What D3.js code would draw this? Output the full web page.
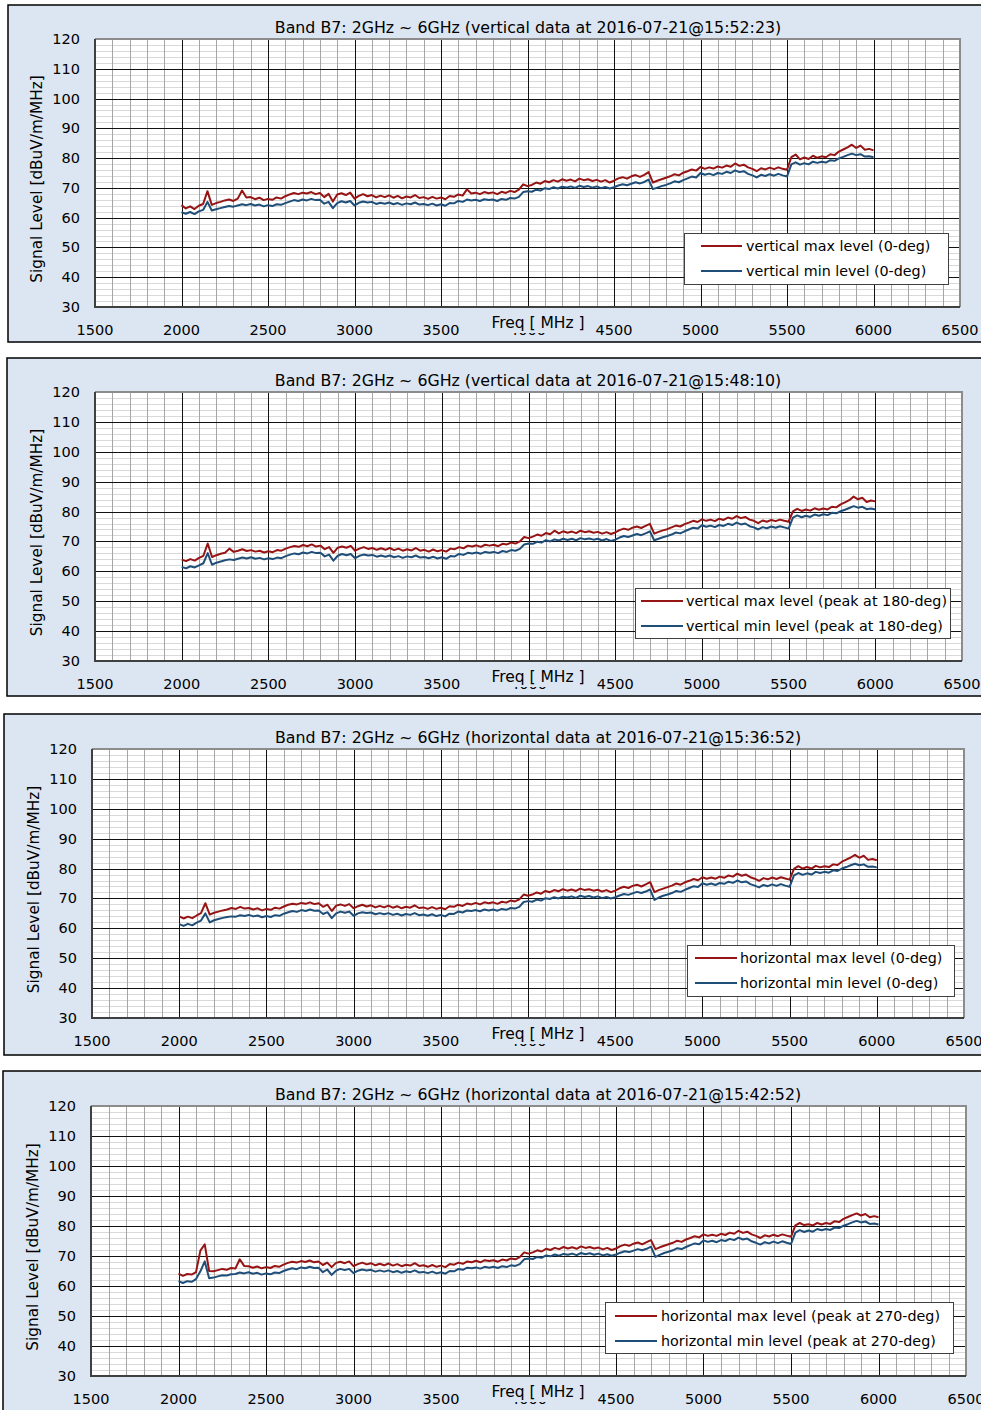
<!DOCTYPE html>
<html>
<head>
<meta charset="utf-8">
<script src="https://cdn.jsdelivr.net/npm/d3@7"></script>
<style>
  body { margin: 0; background: #fff; }
  text { font-family: "DejaVu Sans", sans-serif; fill: #000; }
</style>
</head>
<body>
<script>
// frequency grid of the sweep (MHz), one reading every 25 MHz
const freqs = d3.range(2000, 6001, 25);
const xTicks = [1500, 2000, 2500, 3000, 3500, 4000, 4500, 5000, 5500, 6000, 6500];
const yTicks = [30, 40, 50, 60, 70, 80, 90, 100, 110, 120];

const titles = [
  "Band B7: 2GHz ~ 6GHz (vertical data at 2016-07-21@15:52:23)",
  "Band B7: 2GHz ~ 6GHz (vertical data at 2016-07-21@15:48:10)",
  "Band B7: 2GHz ~ 6GHz (horizontal data at 2016-07-21@15:36:52)",
  "Band B7: 2GHz ~ 6GHz (horizontal data at 2016-07-21@15:42:52)"
];
const legendLabels = [
  ["vertical max level (0-deg)", "vertical min level (0-deg)"],
  ["vertical max level (peak at 180-deg)", "vertical min level (peak at 180-deg)"],
  ["horizontal max level (0-deg)", "horizontal min level (0-deg)"],
  ["horizontal max level (peak at 270-deg)", "horizontal min level (peak at 270-deg)"]
];

const p1Max = [
  64.2, 63.1, 63.8, 62.9, 64.0, 64.6, 68.9, 64.3,
  64.9, 65.3, 65.8, 66.1, 65.6, 66.4, 69.1, 66.8,
  66.9, 66.2, 66.7, 65.9, 66.3, 66.0, 66.8, 66.4,
  67.2, 67.8, 68.3, 67.9, 68.4, 68.1, 68.6, 67.9,
  68.3, 66.9, 68.0, 65.4, 67.8, 68.2, 67.6, 68.4,
  66.4, 67.3, 67.9, 67.2, 67.6, 66.8, 67.4, 66.9,
  67.5, 66.7, 67.3, 66.5, 67.1, 66.8, 67.6, 66.6,
  66.9, 66.3, 67.0, 66.4, 66.8, 66.2, 67.3, 67.0,
  67.8, 67.4, 69.5, 68.1, 68.4, 67.9, 68.6, 68.2,
  68.5, 67.9, 68.7, 68.3, 69.0, 68.6, 69.4, 71.2,
  70.6, 71.0, 71.8, 71.4, 72.3, 71.9, 72.6, 72.1,
  72.9, 72.4, 72.8, 72.2, 73.1, 72.6, 72.9, 72.3,
  72.7, 72.1, 72.6, 71.8, 72.4, 73.2, 73.6, 73.1,
  73.9, 74.3, 73.7, 74.4, 75.3, 71.8, 72.4, 72.9,
  73.4, 73.9, 74.6, 74.2, 75.1, 75.6, 76.2, 75.8,
  77.0, 76.4, 76.9, 76.5, 77.2, 76.8, 77.5, 77.1,
  78.2, 77.4, 77.8, 76.9, 76.4, 75.6, 76.6, 76.2,
  76.8, 76.3, 76.9, 76.4, 76.1, 80.3, 81.2, 79.6,
  80.2, 79.7, 80.8, 80.1, 80.6, 80.3, 81.3, 81.0,
  82.2, 82.9, 83.6, 84.5, 83.4, 84.2, 82.8, 83.1,
  82.6
];
const p1Min = [
  61.8, 61.3, 61.9, 61.2, 62.1, 62.6, 65.3, 62.4,
  62.8, 63.2, 63.6, 63.9, 63.7, 64.1, 64.5, 64.2,
  64.6, 64.1, 64.4, 63.8, 64.2, 63.9, 64.5, 64.3,
  64.9, 65.4, 65.9, 65.6, 66.1, 65.8, 66.3, 65.9,
  66.0, 64.7, 65.3, 63.2, 64.9, 65.5, 65.1, 65.6,
  64.1, 65.0, 65.4, 65.1, 65.3, 64.6, 65.0, 64.7,
  65.1, 64.5, 64.9, 64.3, 64.8, 64.5, 65.1, 64.4,
  64.6, 64.2, 64.7, 64.1, 64.5, 64.0, 64.9, 64.8,
  65.6, 65.3, 66.1, 65.8, 66.0, 65.6, 66.2, 65.9,
  66.1, 65.6, 66.3, 66.0, 66.6, 66.4, 67.0, 68.6,
  68.9, 68.7, 69.4, 69.1, 69.9, 69.6, 70.2, 69.8,
  70.4, 70.1, 70.5, 70.0, 70.7, 70.3, 70.6, 70.1,
  70.5, 69.9, 70.3, 69.8, 70.2, 70.8, 71.2, 70.9,
  71.4, 71.9, 71.5, 72.0, 72.8, 69.6, 70.1, 70.6,
  71.0, 71.5, 72.2, 71.9, 72.6, 73.2, 73.8, 73.5,
  75.0, 74.4, 74.8, 74.3, 75.0, 74.7, 75.4, 75.0,
  75.9, 75.3, 75.6, 74.7, 74.2, 73.5, 74.4, 74.0,
  74.6, 74.1, 74.7, 74.2, 73.8, 77.9, 78.6, 77.8,
  78.3, 77.9, 78.8, 78.4, 78.8, 78.5, 79.3, 79.1,
  79.9, 80.4, 81.0, 81.5, 81.0, 81.3, 80.5, 80.6,
  80.3
];

const p2Max = [
  63.9, 63.4, 64.1, 63.6, 64.5, 65.2, 69.3, 64.8,
  65.4, 65.9, 66.2, 67.6, 66.5, 66.9, 67.4, 66.8,
  67.1, 66.6, 66.9, 66.3, 66.7, 66.4, 67.1, 66.9,
  67.6, 68.1, 68.5, 68.2, 68.8, 68.4, 69.0, 68.3,
  68.6, 67.4, 68.1, 66.2, 67.9, 68.3, 67.9, 68.5,
  66.9, 67.6, 68.1, 67.5, 67.8, 67.2, 67.7, 67.2,
  67.8, 67.1, 67.6, 66.9, 67.4, 67.0, 67.8, 66.9,
  67.2, 66.6, 67.3, 66.7, 67.1, 66.6, 67.6, 67.4,
  68.1, 67.7, 68.6, 68.3, 68.7, 68.2, 68.9, 68.6,
  68.9, 68.4, 69.2, 69.0, 69.6, 69.3, 70.0, 71.5,
  71.1, 71.6, 72.3, 71.9, 72.8, 72.4, 73.6, 72.7,
  73.4, 72.9, 73.3, 72.8, 73.6, 73.1, 73.4, 72.9,
  73.2, 72.6, 73.1, 72.5, 73.0, 73.8, 74.3, 73.9,
  74.6, 75.0, 74.5, 75.2, 75.9, 72.6, 73.2, 73.7,
  74.1, 74.7, 75.3, 75.0, 75.8, 76.3, 76.9, 76.5,
  77.4, 76.9, 77.3, 76.8, 77.6, 77.2, 78.0, 77.6,
  78.5, 77.8, 78.2, 77.3, 76.9, 76.1, 77.0, 76.6,
  77.2, 76.8, 77.3, 76.9, 76.6, 80.1, 80.9, 80.2,
  80.7, 80.3, 81.1, 80.6, 81.0, 80.7, 81.6, 81.4,
  82.4, 83.1, 83.8, 85.0, 84.1, 84.6, 83.2, 83.7,
  83.4
];
const p2Min = [
  61.5, 61.0, 61.7, 61.3, 62.0, 62.7, 66.1, 62.2,
  62.9, 63.3, 63.7, 64.0, 63.8, 64.2, 64.6, 64.3,
  64.7, 64.2, 64.5, 64.0, 64.4, 64.1, 64.6, 64.4,
  65.1, 65.6, 66.0, 65.7, 66.3, 66.0, 66.5, 66.1,
  66.2, 65.0, 65.6, 63.6, 65.2, 65.8, 65.4, 65.8,
  64.4, 65.2, 65.6, 65.3, 65.5, 64.9, 65.3, 64.9,
  65.3, 64.7, 65.1, 64.5, 65.0, 64.7, 65.3, 64.6,
  64.8, 64.4, 64.9, 64.3, 64.7, 64.2, 65.1, 65.0,
  65.8, 65.5, 66.2, 66.0, 66.3, 65.9, 66.5, 66.2,
  66.5, 66.1, 66.8, 66.5, 67.1, 66.9, 67.5, 69.0,
  69.3, 69.2, 69.9, 69.6, 70.4, 70.0, 70.7, 70.3,
  70.9, 70.5, 70.9, 70.4, 71.1, 70.7, 71.0, 70.6,
  70.9, 70.3, 70.8, 70.2, 70.6, 71.3, 71.8, 71.5,
  72.0, 72.5, 72.1, 72.7, 73.4, 70.4, 70.9, 71.4,
  71.8, 72.3, 73.0, 72.7, 73.4, 74.0, 74.6, 74.3,
  75.4, 74.9, 75.3, 74.8, 75.5, 75.2, 75.9, 75.5,
  76.3, 75.7, 76.0, 75.1, 74.7, 74.0, 74.8, 74.4,
  75.0, 74.6, 75.1, 74.7, 74.3, 78.0, 78.7, 78.1,
  78.6, 78.2, 79.0, 78.6, 79.1, 78.8, 79.6, 79.4,
  80.1, 80.6, 81.2, 81.8, 81.3, 81.6, 80.8, 81.0,
  80.7
];

const p3Max = [
  64.0, 63.3, 63.9, 63.4, 64.3, 65.1, 68.4, 64.6,
  65.2, 65.6, 66.0, 66.3, 66.8, 66.5, 67.2, 66.6,
  66.8, 66.3, 66.7, 66.0, 66.5, 66.2, 66.9, 66.6,
  67.3, 67.9, 68.2, 68.0, 68.5, 68.2, 68.7, 68.1,
  68.4, 67.2, 67.9, 65.8, 67.6, 68.0, 67.5, 68.1,
  66.7, 67.4, 67.9, 67.3, 67.7, 67.0, 67.5, 67.0,
  67.6, 66.9, 67.4, 66.7, 67.2, 66.9, 67.7, 66.8,
  67.0, 66.5, 67.1, 66.5, 66.9, 66.4, 67.4, 67.2,
  67.9, 67.5, 68.3, 68.0, 68.5, 68.0, 68.7, 68.4,
  68.7, 68.2, 68.9, 68.6, 69.3, 69.0, 69.7, 71.3,
  70.9, 71.3, 72.0, 71.6, 72.5, 72.1, 72.8, 72.4,
  73.1, 72.6, 73.0, 72.5, 73.3, 72.8, 73.1, 72.6,
  72.9, 72.3, 72.8, 72.1, 72.6, 73.4, 73.9, 73.5,
  74.2, 74.6, 74.0, 74.7, 75.5, 72.1, 72.8, 73.3,
  73.8, 74.3, 75.0, 74.6, 75.4, 75.9, 76.5, 76.1,
  77.1, 76.6, 77.0, 76.6, 77.3, 76.9, 77.7, 77.3,
  78.3, 77.6, 78.0, 77.1, 76.6, 75.9, 76.8, 76.4,
  77.0, 76.5, 77.1, 76.7, 76.3, 79.9, 80.8, 80.0,
  80.5, 80.0, 80.9, 80.4, 80.8, 80.5, 81.4, 81.2,
  82.3, 83.0, 83.7, 84.6, 83.6, 84.3, 82.9, 83.2,
  82.8
];
const p3Min = [
  61.4, 60.8, 61.5, 61.0, 61.9, 62.6, 65.0, 62.0,
  62.7, 63.1, 63.5, 63.8, 64.0, 63.9, 64.4, 64.1,
  64.5, 64.0, 64.3, 63.7, 64.1, 63.8, 64.4, 64.2,
  64.9, 65.4, 65.8, 65.5, 66.1, 65.8, 66.3, 65.9,
  66.0, 64.8, 65.4, 63.4, 65.0, 65.6, 65.2, 65.6,
  64.2, 65.0, 65.4, 65.1, 65.3, 64.7, 65.1, 64.7,
  65.1, 64.5, 64.9, 64.3, 64.8, 64.5, 65.1, 64.4,
  64.6, 64.2, 64.7, 64.1, 64.5, 64.0, 64.9, 64.8,
  65.6, 65.3, 66.0, 65.8, 66.1, 65.7, 66.3, 66.0,
  66.3, 65.9, 66.5, 66.2, 66.8, 66.6, 67.2, 68.8,
  69.1, 68.9, 69.6, 69.3, 70.1, 69.8, 70.4, 70.0,
  70.6, 70.3, 70.7, 70.2, 70.9, 70.5, 70.8, 70.3,
  70.7, 70.1, 70.5, 70.0, 70.4, 71.0, 71.5, 71.2,
  71.7, 72.2, 71.8, 72.3, 73.0, 69.5, 70.3, 70.9,
  71.3, 71.8, 72.5, 72.2, 72.9, 73.5, 74.1, 73.8,
  75.1, 74.6, 75.0, 74.5, 75.2, 74.9, 75.6, 75.2,
  76.0, 75.4, 75.7, 74.8, 74.3, 73.7, 74.5, 74.1,
  74.7, 74.2, 74.8, 74.3, 73.9, 77.7, 78.5, 77.9,
  78.4, 78.0, 78.9, 78.5, 78.9, 78.6, 79.4, 79.2,
  80.0, 80.5, 81.1, 81.6, 81.1, 81.4, 80.6, 80.7,
  80.4
];

const p4Max = [
  64.1, 63.4, 64.0, 63.8, 64.6, 71.8, 73.9, 65.0,
  64.9, 65.3, 65.7, 65.4, 66.0, 65.8, 68.9, 66.7,
  66.6, 66.1, 66.5, 65.9, 66.3, 66.0, 66.7, 66.4,
  67.1, 67.7, 68.1, 67.8, 68.3, 68.0, 68.5, 67.9,
  68.2, 67.0, 67.8, 66.3, 67.7, 68.1, 67.6, 68.2,
  66.6, 67.3, 67.8, 67.2, 67.6, 66.9, 67.4, 66.9,
  67.5, 66.8, 67.3, 66.6, 67.1, 66.8, 67.6, 66.7,
  66.9, 66.4, 67.0, 66.4, 66.8, 66.3, 67.3, 67.1,
  67.8, 67.4, 68.2, 67.9, 68.4, 67.9, 68.6, 68.3,
  68.6, 68.1, 68.8, 68.5, 69.2, 68.9, 69.6, 71.2,
  70.8, 71.2, 71.9, 71.5, 72.4, 72.0, 72.7, 72.3,
  73.0, 72.5, 72.9, 72.4, 73.2, 72.7, 73.0, 72.5,
  72.8, 72.2, 72.7, 72.0, 72.5, 73.3, 73.8, 73.4,
  74.1, 74.5, 73.9, 74.6, 75.3, 72.3, 72.9, 73.4,
  73.9, 74.4, 75.1, 74.7, 75.5, 76.0, 76.6, 76.2,
  77.2, 76.7, 77.1, 76.7, 77.4, 77.0, 77.8, 77.4,
  78.4, 77.7, 78.1, 77.2, 76.7, 76.0, 76.9, 76.5,
  77.1, 76.6, 77.2, 76.8, 76.4, 80.2, 81.0, 80.3,
  80.6, 80.2, 81.0, 80.5, 81.0, 80.7, 81.6, 81.3,
  82.4, 83.0, 83.6, 84.2, 83.5, 84.0, 82.9, 83.3,
  82.9
];
const p4Min = [
  61.6, 61.0, 61.6, 61.4, 62.3, 64.9, 68.2, 62.6,
  62.8, 63.2, 63.6, 63.5, 63.9, 64.0, 64.5, 64.2,
  64.6, 64.1, 64.4, 63.8, 64.2, 63.9, 64.5, 64.3,
  65.0, 65.5, 65.9, 65.6, 66.2, 65.9, 66.4, 66.0,
  66.1, 64.6, 65.5, 63.7, 65.1, 65.7, 65.3, 65.7,
  64.3, 65.1, 65.5, 65.2, 65.4, 64.8, 65.2, 64.8,
  65.2, 64.6, 65.0, 64.4, 64.9, 64.6, 65.2, 64.5,
  64.7, 64.3, 64.8, 64.2, 64.6, 64.1, 65.0, 64.9,
  65.7, 65.4, 66.1, 65.9, 66.2, 65.8, 66.4, 66.1,
  66.4, 66.0, 66.6, 66.3, 66.9, 66.7, 67.3, 68.9,
  69.2, 69.0, 69.7, 69.4, 70.2, 69.9, 70.5, 70.1,
  70.7, 70.4, 70.8, 70.3, 71.0, 70.6, 70.9, 70.4,
  70.8, 70.2, 70.6, 70.1, 70.5, 71.1, 71.6, 71.3,
  71.8, 72.3, 71.9, 72.4, 73.1, 69.7, 70.4, 71.0,
  71.4, 71.9, 72.6, 72.3, 73.0, 73.6, 74.2, 73.9,
  75.2, 74.7, 75.1, 74.6, 75.3, 75.0, 75.7, 75.3,
  76.1, 75.5, 75.8, 74.9, 74.4, 73.8, 74.6, 74.2,
  74.8, 74.3, 74.9, 74.4, 74.0, 77.8, 78.6, 78.0,
  78.5, 78.1, 79.0, 78.6, 79.0, 78.7, 79.5, 79.3,
  80.1, 80.6, 81.2, 81.7, 81.2, 81.5, 80.7, 80.8,
  80.5
];

const seriesMax = [p1Max, p2Max, p3Max, p4Max];
const seriesMin = [p1Min, p2Min, p3Min, p4Min];

const maxColor = "#961414", minColor = "#1f4e79";
const bgColor = "#dce6f2";

// panel layout (page pixels)
const panels = [
  { box: [8, 5, 1000, 337],   plot: [95, 39, 960, 307],   titleX: 528, legend: [684, 233, 264, 51], lineX: [701, 742], textX: 746, rows: [246, 271] },
  { box: [7, 358, 1000, 338], plot: [95, 392, 962, 661],  titleX: 528, legend: [635, 588, 315, 50], lineX: [641, 683], textX: 686, rows: [601, 626] },
  { box: [4, 714, 1000, 341], plot: [92, 749, 964, 1018], titleX: 538, legend: [687, 945, 267, 51], lineX: [695, 737], textX: 740, rows: [958, 983] },
  { box: [3, 1071, 1000, 360], plot: [91, 1106, 966, 1376], titleX: 538, legend: [605, 1302, 348, 51], lineX: [615, 657], textX: 661, rows: [1316, 1341] }
];

const svg = d3.select("body").append("svg")
  .attr("width", 981)
  .attr("height", 1410);

panels.forEach(function(p, i) {
  const g = svg.append("g");
  const [l, t, r, b] = p.plot;

  g.append("rect")
    .attr("x", p.box[0]).attr("y", p.box[1])
    .attr("width", p.box[2]).attr("height", p.box[3])
    .attr("fill", bgColor).attr("stroke", "#000").attr("stroke-width", 1.5);

  const x = d3.scaleLinear().domain([1500, 6500]).range([l, r]);
  const y = d3.scaleLinear().domain([30, 120]).range([b, t]);

  g.append("rect")
    .attr("x", l).attr("y", t).attr("width", r - l).attr("height", b - t)
    .attr("fill", "#fff");

  // minor grid
  g.selectAll(".hminor").data(d3.range(30, 121, 2).filter(v => v % 10 != 0))
    .enter().append("line")
    .attr("x1", l).attr("x2", r)
    .attr("y1", d => Math.round(y(d)) + 0.5).attr("y2", d => Math.round(y(d)) + 0.5)
    .attr("stroke", "#d9d9d9").attr("stroke-width", 1);

  g.selectAll(".vminor").data(d3.range(1500, 6501, 100).filter(v => v % 500 != 0))
    .enter().append("line")
    .attr("y1", t).attr("y2", b)
    .attr("x1", d => Math.round(x(d)) + 0.5).attr("x2", d => Math.round(x(d)) + 0.5)
    .attr("stroke", "#a6a6a6").attr("stroke-width", 1);

  // major grid
  g.selectAll(".hmajor").data(yTicks)
    .enter().append("line")
    .attr("x1", l).attr("x2", r)
    .attr("y1", d => Math.round(y(d)) + 0.5).attr("y2", d => Math.round(y(d)) + 0.5)
    .attr("stroke", "#111").attr("stroke-width", 1);

  g.selectAll(".vmajor").data(xTicks)
    .enter().append("line")
    .attr("y1", t).attr("y2", b)
    .attr("x1", d => Math.round(x(d)) + 0.5).attr("x2", d => Math.round(x(d)) + 0.5)
    .attr("stroke", "#111").attr("stroke-width", 1);

  // plot border: top/right gray, left/bottom dark axis
  g.append("path")
    .attr("d", `M${l},${t}H${r}V${b}`)
    .attr("fill", "none").attr("stroke", "#8c8c8c").attr("stroke-width", 2);
  g.append("path")
    .attr("d", `M${l},${t}V${b}H${r}`)
    .attr("fill", "none").attr("stroke", "#404040").attr("stroke-width", 2);

  // data
  const line = d3.line()
    .x((d, j) => x(freqs[j]))
    .y(d => y(d));

  g.append("path").datum(seriesMax[i])
    .attr("d", line).attr("fill", "none")
    .attr("stroke", maxColor).attr("stroke-width", 2).attr("stroke-linejoin", "round");
  g.append("path").datum(seriesMin[i])
    .attr("d", line).attr("fill", "none")
    .attr("stroke", minColor).attr("stroke-width", 2).attr("stroke-linejoin", "round");

  // tick labels
  g.selectAll(".ylab").data(yTicks)
    .enter().append("text")
    .attr("x", l - 15).attr("y", d => y(d) + 5)
    .attr("text-anchor", "end").attr("font-size", "14.5px")
    .text(d => d);

  g.selectAll(".xlab").data(xTicks)
    .enter().append("text")
    .attr("x", d => x(d)).attr("y", b + 28)
    .attr("text-anchor", "middle").attr("font-size", "14.5px")
    .text(d => d);

  // axis titles (the title box hides most of the 4000 label, as in the original)
  g.append("rect")
    .attr("x", 487).attr("y", b + 5).attr("width", 104).attr("height", 21)
    .attr("fill", bgColor);
  g.append("text")
    .attr("x", 538).attr("y", b + 21)
    .attr("text-anchor", "middle").attr("font-size", "15.5px")
    .text("Freq [ MHz ]");

  g.append("text")
    .attr("transform", `translate(${l - 53},${(t + b) / 2 + 6}) rotate(-90)`)
    .attr("text-anchor", "middle").attr("font-size", "15.3px")
    .text("Signal Level [dBuV/m/MHz]");

  g.append("text")
    .attr("x", p.titleX).attr("y", t - 6)
    .attr("text-anchor", "middle").attr("font-size", "15.8px")
    .text(titles[i]);

  // legend
  const [lx, ly, lw, lh] = p.legend;
  g.append("rect")
    .attr("x", lx + 0.5).attr("y", ly + 0.5).attr("width", lw).attr("height", lh)
    .attr("fill", "#fff").attr("stroke", "#404040").attr("stroke-width", 1);
  [maxColor, minColor].forEach(function(c, k) {
    g.append("line")
      .attr("x1", p.lineX[0]).attr("x2", p.lineX[1])
      .attr("y1", p.rows[k]).attr("y2", p.rows[k])
      .attr("stroke", c).attr("stroke-width", 2);
    g.append("text")
      .attr("x", p.textX).attr("y", p.rows[k] + 5)
      .attr("font-size", "14.3px")
      .text(legendLabels[i][k]);
  });
});
</script>
</body>
</html>
